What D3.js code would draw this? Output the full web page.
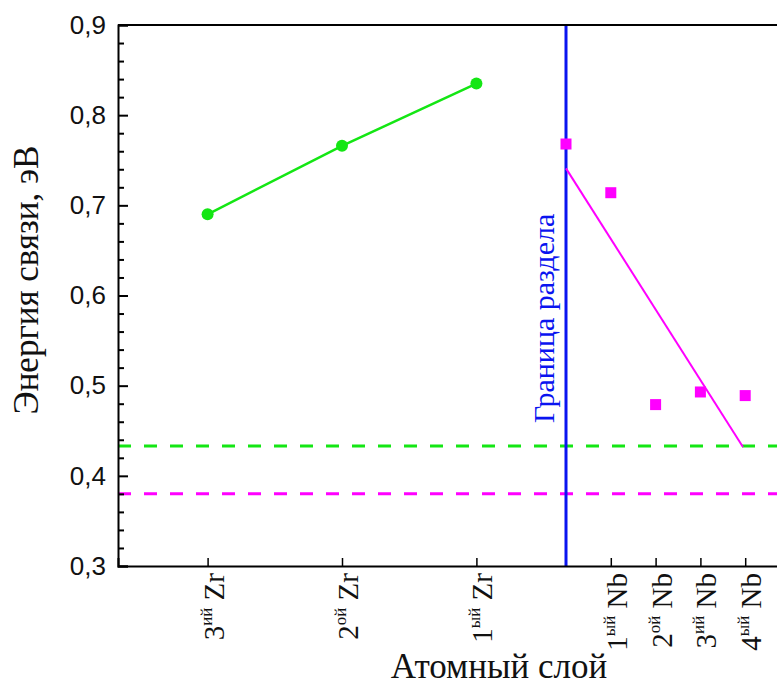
<!DOCTYPE html>
<html>
<head>
<meta charset="utf-8">
<script src="https://cdn.jsdelivr.net/npm/d3@7"></script>
<style>
  body { margin: 0; background: #fff; }
  svg { display: block; }
</style>
</head>
<body>
<svg id="visu" width="777" height="687"></svg>
<script>
// layer positions along the x axis (layer units), labels under the axis
var layerX = [2, 5, 8, 11, 12, 13, 14],
    layerNum = ["3", "2", "1", "1", "2", "3", "4"],
    layerSup = ["ий", "ой", "ый", "ый", "ой", "ий", "ый"],
    layerEl = ["Zr", "Zr", "Zr", "Nb", "Nb", "Nb", "Nb"];

// binding energy, eV
var zrX = [2, 5, 8],
    zrE = [0.690, 0.766, 0.835];
var nbX = [10, 11, 12, 13, 14],
    nbE = [0.768, 0.714, 0.479, 0.493, 0.489];
var nbFitX = [10, 13.95],
    nbFitE = [0.741, 0.432];

var zrBulk = 0.433,
    nbBulk = 0.380,
    boundaryX = 10;

var yTicks = [0.3, 0.4, 0.5, 0.6, 0.7, 0.8, 0.9];

var vis = d3.select("#visu"),
    MARGINS = { top: 25, bottom: 566, left: 118, right: 790 },
    GREEN = "#14e614",
    MAGENTA = "#ff00ff",
    BLUE = "#0a14f0",
    SERIF = "'Liberation Serif', 'Times New Roman', serif";

var xScale = d3.scaleLinear().domain([0, 15]).range([MARGINS.left, MARGINS.right]),
    yScale = d3.scaleLinear().domain([0.3, 0.9]).range([MARGINS.bottom, MARGINS.top]);

var line = d3.line()
  .x(function(d) { return xScale(d[0]); })
  .y(function(d) { return yScale(d[1]); });

// bulk levels
vis.append("line")
  .attr("x1", xScale(0)).attr("x2", xScale(15))
  .attr("y1", yScale(zrBulk)).attr("y2", yScale(zrBulk))
  .attr("stroke", GREEN).attr("stroke-width", 3)
  .attr("stroke-dasharray", "13,13");
vis.append("line")
  .attr("x1", xScale(0)).attr("x2", xScale(15))
  .attr("y1", yScale(nbBulk)).attr("y2", yScale(nbBulk))
  .attr("stroke", MAGENTA).attr("stroke-width", 3)
  .attr("stroke-dasharray", "13,13");

// interface
vis.append("line")
  .attr("x1", xScale(boundaryX)).attr("x2", xScale(boundaryX))
  .attr("y1", yScale(0.9)).attr("y2", yScale(0.3))
  .attr("stroke", BLUE).attr("stroke-width", 3);
vis.append("text")
  .attr("transform", "translate(" + (xScale(boundaryX) - 12) + ",423) rotate(-90)")
  .attr("font-family", SERIF).attr("font-size", 30)
  .attr("fill", BLUE)
  .text("Граница раздела");

// Zr side
vis.append("path")
  .attr("d", line(d3.zip(zrX, zrE)))
  .attr("fill", "none").attr("stroke", GREEN).attr("stroke-width", 2.5);
vis.selectAll(".zr").data(d3.zip(zrX, zrE)).enter()
  .append("circle")
  .attr("cx", function(d) { return xScale(d[0]); })
  .attr("cy", function(d) { return yScale(d[1]); })
  .attr("r", 6)
  .attr("fill", GREEN);

// Nb side
vis.append("path")
  .attr("d", line(d3.zip(nbFitX, nbFitE)))
  .attr("fill", "none").attr("stroke", MAGENTA).attr("stroke-width", 2);
vis.selectAll(".nb").data(d3.zip(nbX, nbE)).enter()
  .append("rect")
  .attr("x", function(d) { return xScale(d[0]) - 5.5; })
  .attr("y", function(d) { return yScale(d[1]) - 5.5; })
  .attr("width", 11).attr("height", 11)
  .attr("fill", MAGENTA);

// frame
vis.append("line")
  .attr("x1", MARGINS.left).attr("x2", 777)
  .attr("y1", MARGINS.top).attr("y2", MARGINS.top)
  .attr("stroke", "#000").attr("stroke-width", 2);

// y axis, ticks inside
var yAxis = d3.axisRight(yScale)
  .tickValues(yTicks)
  .tickSize(10)
  .tickFormat(function(d) { return d3.format(".1f")(d).replace(".", ","); });
var gy = vis.append("g")
  .attr("transform", "translate(" + MARGINS.left + ",0)")
  .call(yAxis);
gy.select(".domain").attr("stroke-width", 2);
gy.selectAll(".tick line").attr("stroke-width", 2);
gy.selectAll(".tick text")
  .attr("x", -12).attr("text-anchor", "end")
  .attr("font-family", "'Liberation Sans', Arial, sans-serif")
  .attr("font-size", 26).attr("fill", "#111");

var yMinor = d3.axisRight(yScale)
  .tickValues(d3.range(0.32, 0.9, 0.02).filter(function(v) { return Math.abs(v * 10 - Math.round(v * 10)) > 0.01; }))
  .tickSize(6).tickFormat("");
var gym = vis.append("g")
  .attr("transform", "translate(" + MARGINS.left + ",0)")
  .call(yMinor);
gym.select(".domain").remove();
gym.selectAll(".tick line").attr("stroke-width", 2);

// x axis, ticks inside
var xAxis = d3.axisTop(xScale).tickValues(layerX).tickSize(8).tickFormat("");
var gx = vis.append("g")
  .attr("transform", "translate(0," + MARGINS.bottom + ")")
  .call(xAxis);
gx.select(".domain").attr("stroke-width", 2);
gx.selectAll(".tick line").attr("stroke-width", 1.5);

var labels = vis.selectAll(".xl").data(layerX).enter()
  .append("text")
  .attr("transform", function(d) { return "translate(" + (xScale(d) + 16) + ",573) rotate(-90)"; })
  .attr("text-anchor", "end")
  .attr("font-family", SERIF).attr("font-size", 29).attr("fill", "#111");
labels.append("tspan").text(function(d, i) { return layerNum[i]; });
labels.append("tspan").attr("font-size", 17).attr("dy", -12)
  .text(function(d, i) { return layerSup[i]; });
labels.append("tspan").attr("dy", 12)
  .text(function(d, i) { return "\u00a0" + layerEl[i]; });

// axis titles
vis.append("text")
  .attr("x", 499).attr("y", 678)
  .attr("text-anchor", "middle")
  .attr("font-family", SERIF).attr("font-size", 35).attr("fill", "#111")
  .text("Атомный слой");
vis.append("text")
  .attr("transform", "translate(38,280) rotate(-90)")
  .attr("text-anchor", "middle")
  .attr("font-family", SERIF).attr("font-size", 35).attr("fill", "#111")
  .text("Энергия связи, эВ");
</script>
</body>
</html>
